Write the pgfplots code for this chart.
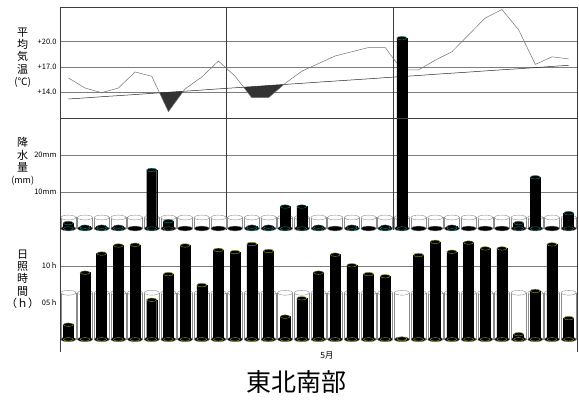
\documentclass[border=0pt]{standalone}
\usepackage{fontspec}
\setmainfont{Noto Sans CJK JP}
\usepackage{pgfplots}
\usepackage{pgfplotstable}
\pgfplotsset{compat=1.18}
\usepgfplotslibrary{fillbetween}

\definecolor{capteal}{RGB}{30,125,120}
\definecolor{capolive}{RGB}{150,150,40}
\definecolor{gridgray}{RGB}{125,125,125}
\definecolor{divgray}{RGB}{60,60,60}
\definecolor{cylgray}{RGB}{140,140,140}

\pgfplotsset{
  panel/.style={
    scale only axis, width=517pt, xmin=0.5, xmax=31.5,
    anchor=south west,
    axis line style={draw=none},
    xtick=\empty, major tick length=0pt,
    clip marker paths=true,
    tick label style={font=\fontsize{7.5}{8}\selectfont},
  },
  divlines/.style={
    extra x ticks={10.5,20.5}, extra x tick labels={},
    extra x tick style={grid=major, major grid style={divgray, line width=0.6pt}},
  },
  ellmark/.style 2 args={only marks, mark=*, mark size=#1,
    mark options={yscale=#2}},
  bgcyl/.style={ybar, bar shift=0pt, bar width=15pt, draw=cylgray, fill=none, line width=0.45pt},
  blkbar/.style={ybar, bar shift=0pt, bar width=10pt, draw=black, fill=black},
}

% mean temperature and normal, one row per day
\pgfplotstableread{
day temp normal
1  15.7  13.20
2  14.5  13.33
3  13.95 13.47
4  14.5  13.60
5  16.4  13.73
6  15.9  13.87
7  11.7  14.00
8  14.4  14.13
9  15.8  14.26
10 17.7  14.40
11 15.9  14.53
12 13.35 14.66
13 13.35 14.80
14 15.05 14.93
15 16.5  15.06
16 17.4  15.20
17 18.3  15.33
18 18.8  15.46
19 19.3  15.59
20 19.3  15.73
21 16.65 15.86
22 16.65 15.99
23 17.8  16.13
24 18.8  16.26
25 20.8  16.39
26 22.8  16.53
27 23.8  16.66
28 21.4  16.79
29 17.3  16.92
30 18.2  17.06
31 17.95 17.19
}\tempdata

% precipitation (mm), days with rain only
\pgfplotstableread{
day rain
1  1.5
2  0.5
3  0.5
4  0.5
6  16
7  2
12 0.5
13 0.5
14 6
15 6
16 0.5
18 0.5
20 0.5
21 52
24 0.5
28 1.5
29 14
31 4.2
}\raindata

% sunshine (h)
\pgfplotstableread{
day sun
1  2.0
2  9.1
3  11.7
4  12.8
5  12.9
6  5.4
7  8.9
8  12.8
9  7.4
10 12.2
11 11.9
12 13.0
13 12.05
14 3.1
15 5.6
16 9.1
17 11.55
18 10.1
19 8.9
20 8.6
21 0.1
22 11.5
23 13.3
24 11.95
25 13.2
26 12.4
27 12.4
28 0.7
29 6.6
30 12.95
31 2.9
}\sundata

% normals shown as empty cylinders
\pgfplotstableread{
day rainnorm sunnorm
1 3 6.35
2 3 6.35
3 3 6.35
4 3 6.35
5 3 6.35
6 3 6.35
7 3 6.35
8 3 6.35
9 3 6.35
10 3 6.35
11 3 6.35
12 3 6.35
13 3 6.35
14 3 6.35
15 3 6.35
16 3 6.35
17 3 6.35
18 3 6.35
19 3 6.35
20 3 6.35
21 3 6.35
22 3 6.35
23 3 6.35
24 3 6.35
25 3 6.35
26 3 6.35
27 3 6.35
28 3 6.35
29 3 6.35
30 3 6.35
31 3 6.35
}\normdata

\begin{document}
\begin{tikzpicture}

% --- temperature ---
\begin{axis}[panel, divlines, at={(60pt,282pt)}, height=111pt,
    ymin=10.95, ymax=24.1,
    ytick={14,17,20}, yticklabels={+14.0,+17.0,+20.0},
    ymajorgrids, major grid style={gridgray, line width=0.5pt}]
\addplot[name path=norm, black!85, line width=0.5pt] table[x=day, y=normal] {\tempdata};
\addplot[name path=temp, black!55, line width=0.5pt] table[x=day, y=temp] {\tempdata};
\addplot[black!80] fill between[of=temp and norm, split,
    every even segment/.style={fill opacity=0}];
\end{axis}

% --- precipitation ---
\begin{axis}[panel, divlines, at={(60pt,170pt)}, height=112pt, clip=false,
    ymin=-0.41, ymax=30.19,
    ytick={10,20}, yticklabels={10mm,20mm},
    ymajorgrids, major grid style={gridgray, line width=0.5pt}]
\addplot[bgcyl] table[x=day, y=rainnorm] {\normdata};
\addplot[ellmark={7.5pt}{0.32}, draw=cylgray, fill=none] table[x=day, y expr=0] {\normdata};
\addplot[ellmark={7.5pt}{0.32}, draw=cylgray, fill=white] table[x=day, y=rainnorm] {\normdata};
\addplot[blkbar] table[x=day, y=rain] {\raindata};
\addplot[ellmark={5pt}{0.35}, draw=capteal, fill=black] table[x=day, y expr=0] {\raindata};
\addplot[ellmark={5pt}{0.35}, draw=capteal, fill=black] table[x=day, y=rain] {\raindata};
\end{axis}

% --- sunshine ---
\begin{axis}[panel, at={(60pt,48pt)}, height=122pt,
    ymin=-1.73, ymax=14.91,
    ytick={5,10}, yticklabels={05 h,10 h},
    extra y ticks={10}, extra y tick labels={},
    extra y tick style={grid=major, major grid style={gridgray, line width=0.5pt}}]
\addplot[bgcyl] table[x=day, y=sunnorm] {\normdata};
\addplot[ellmark={7.5pt}{0.32}, draw=cylgray, fill=none] table[x=day, y expr=0] {\normdata};
\addplot[ellmark={7.5pt}{0.32}, draw=cylgray, fill=white] table[x=day, y=sunnorm] {\normdata};
\addplot[blkbar] table[x=day, y=sun] {\sundata};
\addplot[ellmark={5pt}{0.35}, draw=capolive, fill=black] table[x=day, y expr=0] {\sundata};
\addplot[ellmark={5pt}{0.35}, draw=capolive, fill=black] table[x=day, y=sun] {\sundata};
\end{axis}

% frame
\draw[divgray, line width=0.6pt] (60pt,393pt) -- (577pt,393pt);
\draw[divgray, line width=0.6pt] (60pt,282pt) -- (577pt,282pt);
\draw[divgray, line width=0.6pt] (60pt,393pt) -- (60pt,48pt);
\draw[divgray, line width=0.6pt] (577pt,393pt) -- (577pt,48pt);

% side labels
\node[align=center, font=\fontsize{11}{12.3}\selectfont] at (22.7pt,342.5pt)
  {平\\均\\気\\温\\{\fontsize{10}{11}\selectfont (℃)}};
\node[align=center, font=\fontsize{11}{12.3}\selectfont] at (22.7pt,238.5pt)
  {降\\水\\量\\{\fontsize{9}{10}\selectfont (mm)}};
\node[align=center, font=\fontsize{11}{12.3}\selectfont] at (22.7pt,121pt)
  {日\\照\\時\\間\\（ｈ）};

\node[font=\fontsize{8.5}{9}\selectfont] at (327pt,45pt) {5月};
\node[font=\fontsize{25}{25}\selectfont] at (296pt,18pt) {東北南部};

% page = 579 x 400
\path (0pt,0pt) rectangle (579pt,400pt);
\end{tikzpicture}
\end{document}
